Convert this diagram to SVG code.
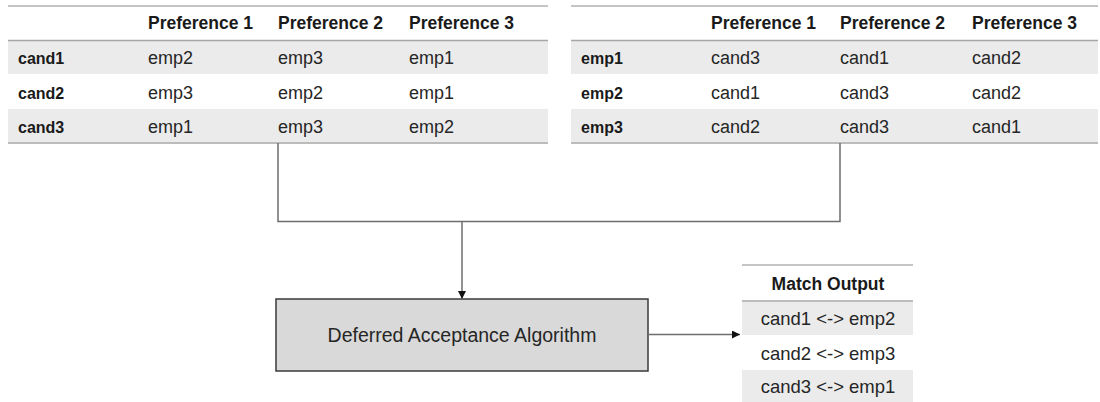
<svg xmlns="http://www.w3.org/2000/svg" width="1100" height="402" viewBox="0 0 1100 402">
  <defs>
    <marker id="arrow" viewBox="0 0 10 10" refX="10" refY="5" markerWidth="8" markerHeight="8" markerUnits="userSpaceOnUse" orient="auto">
      <path d="M0,0 L10,5 L0,10 z" fill="#111"/>
    </marker>
  </defs>
  <style>
    text { font-family: "Liberation Sans", Arial, sans-serif; fill: #1a1a1a; }
    .hd { font-weight: bold; font-size: 17.5px; }
    .lb { font-weight: bold; font-size: 16px; }
    .cell { font-size: 18px; fill: #262626; }
    .out { font-size: 18.5px; fill: #262626; }
    .mid { text-anchor: middle; }
    .band { fill: #ebebeb; }
    .rule-top { stroke: #c4c4c4; stroke-width: 2; }
    .rule { stroke: #a6a6a6; stroke-width: 1.5; }
    .conn { fill: none; stroke: #6e6e6e; stroke-width: 1.5; }
    .algo { fill: #d9d9d9; stroke: #3a3a3a; stroke-width: 1.5; }
    .algo-text { font-size: 19.5px; fill: #262626; }
  </style>

  <rect width="1100" height="402" fill="#ffffff"/>

  <!-- Candidate preference table -->
  <g id="candidate-table">
    <rect class="band" x="8" y="41" width="540" height="33"/>
    <rect class="band" x="8" y="109" width="540" height="33"/>
    <line class="rule-top" x1="8" y1="6" x2="548" y2="6"/>
    <line class="rule" x1="8" y1="40.5" x2="548" y2="40.5"/>
    <line class="rule" x1="8" y1="143" x2="548" y2="143"/>
    <text class="hd" x="148" y="29">Preference 1</text>
    <text class="hd" x="278" y="29">Preference 2</text>
    <text class="hd" x="409" y="29">Preference 3</text>
    <text class="lb" x="18" y="64">cand1</text>
    <text class="cell" x="148" y="64">emp2</text>
    <text class="cell" x="278" y="64">emp3</text>
    <text class="cell" x="409" y="64">emp1</text>
    <text class="lb" x="18" y="99">cand2</text>
    <text class="cell" x="148" y="99">emp3</text>
    <text class="cell" x="278" y="99">emp2</text>
    <text class="cell" x="409" y="99">emp1</text>
    <text class="lb" x="18" y="133">cand3</text>
    <text class="cell" x="148" y="133">emp1</text>
    <text class="cell" x="278" y="133">emp3</text>
    <text class="cell" x="409" y="133">emp2</text>
  </g>

  <!-- Employer preference table -->
  <g id="employer-table">
    <rect class="band" x="571" y="41" width="527" height="33"/>
    <rect class="band" x="571" y="109" width="527" height="33"/>
    <line class="rule-top" x1="571" y1="6" x2="1098" y2="6"/>
    <line class="rule" x1="571" y1="40.5" x2="1098" y2="40.5"/>
    <line class="rule" x1="571" y1="143" x2="1098" y2="143"/>
    <text class="hd" x="711" y="29">Preference 1</text>
    <text class="hd" x="840" y="29">Preference 2</text>
    <text class="hd" x="972" y="29">Preference 3</text>
    <text class="lb" x="581" y="64">emp1</text>
    <text class="cell" x="711" y="64">cand3</text>
    <text class="cell" x="840" y="64">cand1</text>
    <text class="cell" x="972" y="64">cand2</text>
    <text class="lb" x="581" y="99">emp2</text>
    <text class="cell" x="711" y="99">cand1</text>
    <text class="cell" x="840" y="99">cand3</text>
    <text class="cell" x="972" y="99">cand2</text>
    <text class="lb" x="581" y="133">emp3</text>
    <text class="cell" x="711" y="133">cand2</text>
    <text class="cell" x="840" y="133">cand3</text>
    <text class="cell" x="972" y="133">cand1</text>
  </g>

  <!-- Algorithm box -->
  <g id="algorithm">
    <rect class="algo" x="276" y="299" width="372" height="72"/>
    <text class="algo-text mid" x="462" y="342">Deferred Acceptance Algorithm</text>
  </g>

  <!-- Match output table -->
  <g id="match-output">
    <rect class="band" x="742" y="302" width="171" height="33"/>
    <rect class="band" x="742" y="370" width="171" height="32"/>
    <line class="rule-top" x1="742" y1="265" x2="913" y2="265"/>
    <line class="rule" x1="742" y1="301" x2="913" y2="301"/>
    <text class="hd mid" x="828" y="290">Match Output</text>
    <text class="out mid" x="828" y="325">cand1 &lt;-&gt; emp2</text>
    <text class="out mid" x="828" y="360">cand2 &lt;-&gt; emp3</text>
    <text class="out mid" x="828" y="393">cand3 &lt;-&gt; emp1</text>
  </g>

  <!-- Connectors -->
  <g id="connectors">
    <path class="conn" d="M278,143 V221.5 H840 V143"/>
    <path class="conn" d="M462,221.5 V299" marker-end="url(#arrow)"/>
    <path class="conn" d="M648,334.5 H740" marker-end="url(#arrow)"/>
  </g>
</svg>
